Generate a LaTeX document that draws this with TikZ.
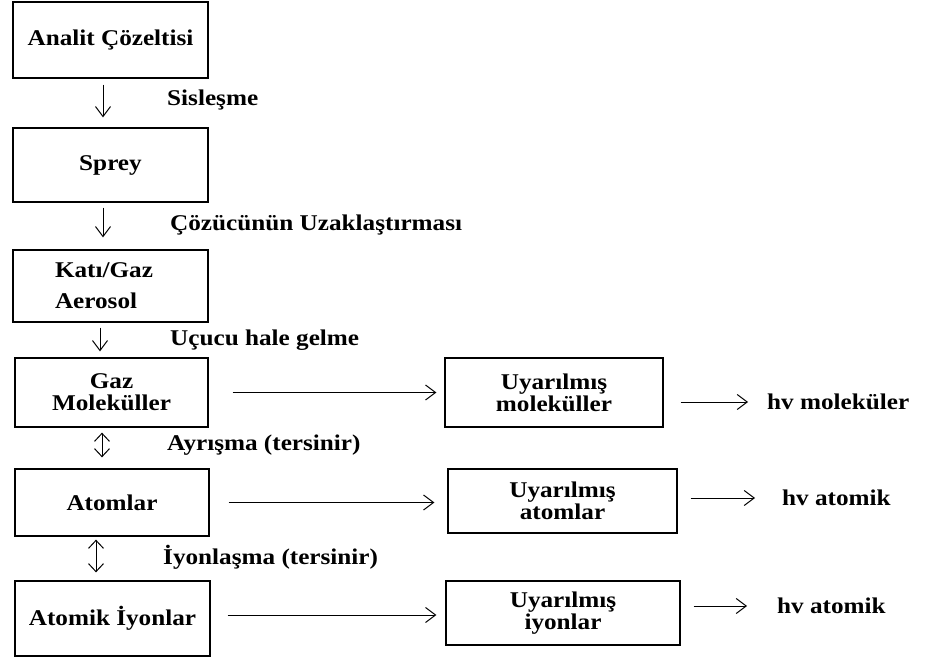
\documentclass[tikz,border=0pt]{standalone}
\usepackage{fontspec}
\setmainfont{Liberation Serif}[FakeStretch=1.12]
\usetikzlibrary{arrows.meta,calc}

\tikzset{
  stagebox/.style={draw, line width=1.3pt, inner sep=2pt, align=center,
                   font=\fontsize{22.5}{22}\selectfont\bfseries},
  steplabel/.style={anchor=west, inner sep=0pt,
                    font=\fontsize{22.5}{22}\selectfont\bfseries},
  arr/.style={line width=1pt, -{Straight Barb[length=10pt,width=15pt,line width=1pt]}},
  darr/.style={line width=1pt, {Straight Barb[length=8pt,width=15pt,line width=1pt]}-{Straight Barb[length=8pt,width=15pt,line width=1pt]}}
}

\begin{document}
\begin{tikzpicture}[x=1pt, y=-1pt]
  \useasboundingbox (0,0) rectangle (946,661);

  % main chain of stages
  \node[stagebox, minimum width=195pt, minimum height=76pt] (b1) at (110.5,40) {Analit Çözeltisi};
  \node[stagebox, minimum width=195pt, minimum height=74pt] (b2) at (110.5,165) {Sprey};
  \node[stagebox, minimum width=195pt, minimum height=72pt, align=left, text width=111pt,
        font=\fontsize{22.5}{31}\selectfont\bfseries] (b3) at (110.5,286) {Katı/Gaz\\Aerosol};
  \node[stagebox, minimum width=193pt, minimum height=69pt] (b4) at (111.5,392.5) {Gaz\\Moleküller};
  \node[stagebox, minimum width=194pt, minimum height=67pt] (b5) at (112,502.5) {Atomlar};
  \node[stagebox, minimum width=195pt, minimum height=75pt] (b6) at (112.5,618.5) {Atomik İyonlar};

  % excited states
  \node[stagebox, minimum width=218pt, minimum height=69pt] (u1) at (554,392.5) {Uyarılmış\\moleküller};
  \node[stagebox, minimum width=229pt, minimum height=64pt] (u2) at (562.5,501) {Uyarılmış\\atomlar};
  \node[stagebox, minimum width=234pt, minimum height=64pt] (u3) at (563,613) {Uyarılmış\\iyonlar};

  % emission labels
  \node[steplabel] (hvm) at (767,402) {hv moleküler};
  \node[steplabel] (hva) at (782,498) {hv atomik};
  \node[steplabel] (hvi) at (777,606) {hv atomik};

  % process labels
  \node[steplabel] (l1) at (167,100) {Sisleşme};
  \node[steplabel] (l2) at (170,225) {Çözücünün Uzaklaştırması};
  \node[steplabel] (l3) at (170,340) {Uçucu hale gelme};
  \node[steplabel] (l4) at (167,445) {Ayrışma (tersinir)};
  \node[steplabel] (l5) at (163,557) {İyonlaşma (tersinir)};

  % vertical steps
  \draw[arr, shorten <=6pt, shorten >=10pt] ([xshift=-7.5pt]b1.south) -- ([xshift=-7.5pt]b2.north);
  \draw[arr, shorten <=5pt, shorten >=12pt] ([xshift=-7.5pt]b2.south) -- ([xshift=-7.5pt]b3.north);
  \draw[arr, shorten <=5pt, shorten >=6pt] ([xshift=-10.5pt]b3.south) -- ([xshift=-10.5pt]b3.south |- b4.north);
  \draw[darr, shorten <=5pt, shorten >=11pt] ([xshift=-9.5pt]b4.south) -- ([xshift=-9.5pt]b4.south |- b5.north);
  \draw[darr, shorten <=3pt, shorten >=8pt] ([xshift=-16pt]b5.south) -- ([xshift=-16pt]b5.south |- b6.north);

  % excitation
  \draw[arr, shorten <=24pt, shorten >=8pt] (b4.east) -- (b4.east -| u1.west);
  \draw[arr, shorten <=19pt, shorten >=13pt] (b5.east) -- (b5.east -| u2.west);
  \draw[arr, shorten <=17pt, shorten >=9pt] ([yshift=3.5pt]b6.east) -- ([yshift=3.5pt]b6.east -| u3.west);

  % emission
  \draw[arr, shorten <=17pt, shorten >=19pt] (u1.east |- hvm.west) -- (hvm.west);
  \draw[arr, shorten <=13pt, shorten >=27pt] (u2.east |- hva.west) -- (hva.west);
  \draw[arr, shorten <=13pt, shorten >=30pt] (u3.east |- hvi.west) -- (hvi.west);
\end{tikzpicture}
\end{document}
